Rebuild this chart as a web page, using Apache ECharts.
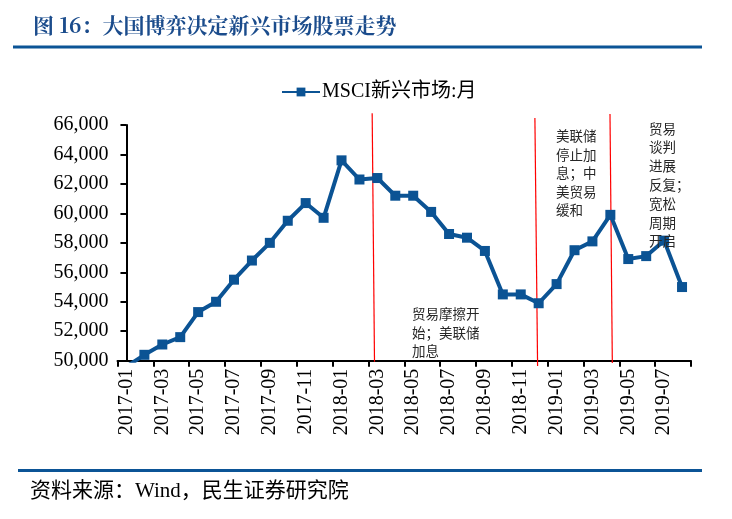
<!DOCTYPE html>
<html>
<head>
<meta charset="utf-8">
<script src="https://cdn.jsdelivr.net/npm/echarts@6/dist/echarts.min.js"></script>
<style>
html,body{margin:0;padding:0;background:#fff;}
#main{width:732px;height:519px;}
</style>
</head>
<body>
<div id="main"></div>
<script>
// ---- data ----
const categories = [
  '2017-01','2017-02','2017-03','2017-04','2017-05','2017-06','2017-07','2017-08','2017-09','2017-10','2017-11','2017-12',
  '2018-01','2018-02','2018-03','2018-04','2018-05','2018-06','2018-07','2018-08','2018-09','2018-10','2018-11','2018-12',
  '2019-01','2019-02','2019-03','2019-04','2019-05','2019-06','2019-07','2019-08'
];
const msciEM = [
  49600, 50400, 51100, 51600, 53300, 54000, 55500, 56800, 58000, 59500, 60700, 59700,
  63600, 62300, 62400, 61200, 61200, 60100, 58600, 58350, 57450, 54500, 54500, 53900,
  55200, 57500, 58100, 59900, 56900, 57100, 58150, 55000
];
const seriesName = 'MSCI新兴市场:月';
const yTicks = [50000, 66000, 2000]; // min, max, interval
// event marker lines: month index (top, bottom) and value (top, bottom)
const eventX = [[13.71, 13.84], [22.79, 22.94], [26.98, 27.11]];
const eventY = [[66800, 49930], [66470, 49640], [66750, 49840]];
const eventTexts = [
  '贸易摩擦开\n始；美联储\n加息',
  '美联储\n停止加\n息；中\n美贸易\n缓和',
  '贸易\n谈判\n进展\n反复；\n宽松\n周期\n开启'
];
const titleText = '图 16：大国博弈决定新兴市场股票走势';
const sourceText = '资料来源：Wind，民生证券研究院';

// ---- chart ----
const chart = echarts.init(document.getElementById('main'), null, {renderer: 'canvas'});
const serif = "'Liberation Serif', 'Times New Roman', 'Noto Sans CJK SC', serif";
const blue = '#0B5394';

const eventSeries = eventX.map((xs, i) => ({
  type: 'line',
  xAxisIndex: 1,
  yAxisIndex: 0,
  data: [[xs[0], eventY[i][0]], [xs[1], eventY[i][1]]],
  symbol: 'none',
  clip: false,
  silent: true,
  z: 1,
  lineStyle: {color: '#FF0000', width: 1.2},
  animation: false
}));

const annoPos = [[412, 305, 18.3], [556, 127, 18.5], [649, 119, 18.8]];
const annoGraphics = eventTexts.map((t, i) => ({
  type: 'text',
  left: annoPos[i][0],
  top: annoPos[i][1],
  style: {
    text: t,
    font: "13.5px 'Noto Sans CJK SC', sans-serif",
    fill: '#262626',
    lineHeight: annoPos[i][2]
  },
  z: 10
}));

chart.setOption({
  animation: false,
  backgroundColor: '#fff',
  grid: {left: 117.5, right: 41, top: 125, bottom: 158.3, containLabel: false},
  legend: {
    data: [seriesName],
    left: 276,
    top: 77,
    itemWidth: 38,
    itemHeight: 11,
    itemGap: 4,
    textStyle: {fontFamily: serif, fontSize: 20, color: '#000', padding: [0, 0, 0, -3]}
  },
  xAxis: [{
    type: 'category',
    data: categories,
    boundaryGap: true,
    axisLine: {lineStyle: {color: '#000', width: 2}},
    axisTick: {show: true, interval: 1, length: 6, lineStyle: {color: '#000', width: 2}},
    axisLabel: {interval: 1, rotate: 90, fontFamily: serif, fontSize: 20, color: '#000', margin: 8},
    splitLine: {show: false}
  }, {
    type: 'value',
    min: -0.5,
    max: categories.length - 0.5,
    show: false
  }],
  yAxis: {
    type: 'value',
    min: yTicks[0],
    max: yTicks[1],
    interval: yTicks[2],
    axisLine: {show: true, lineStyle: {color: '#000', width: 2}},
    axisTick: {show: true, length: 6, lineStyle: {color: '#000', width: 2}},
    axisLabel: {
      fontFamily: serif, fontSize: 20, color: '#000', margin: 9,
      formatter: v => v.toLocaleString('en-US')
    },
    splitLine: {show: false}
  },
  series: [{
    name: seriesName,
    type: 'line',
    data: msciEM,
    clip: true,
    symbol: 'rect',
    symbolSize: 10,
    z: 5,
    itemStyle: {color: blue},
    lineStyle: {color: blue, width: 4}
  }].concat(eventSeries),
  graphic: [
    {
      type: 'text', left: 33, top: 15,
      style: {text: titleText, font: "bold 21px 'Noto Serif CJK SC', 'Noto Sans CJK SC', serif", fill: '#1B4C8C'}
    },
    {
      type: 'rect', shape: {x: 13, y: 45.5, width: 689, height: 3},
      style: {fill: '#0B5496'}
    },
    {
      type: 'rect', shape: {x: 18, y: 469, width: 684, height: 3},
      style: {fill: '#0B5496'}
    },
    {
      type: 'text', left: 30, top: 481,
      style: {text: sourceText, font: "21px 'Liberation Serif', 'Noto Sans CJK SC', serif", fill: '#000'}
    }
  ].concat(annoGraphics)
});
</script>
</body>
</html>
